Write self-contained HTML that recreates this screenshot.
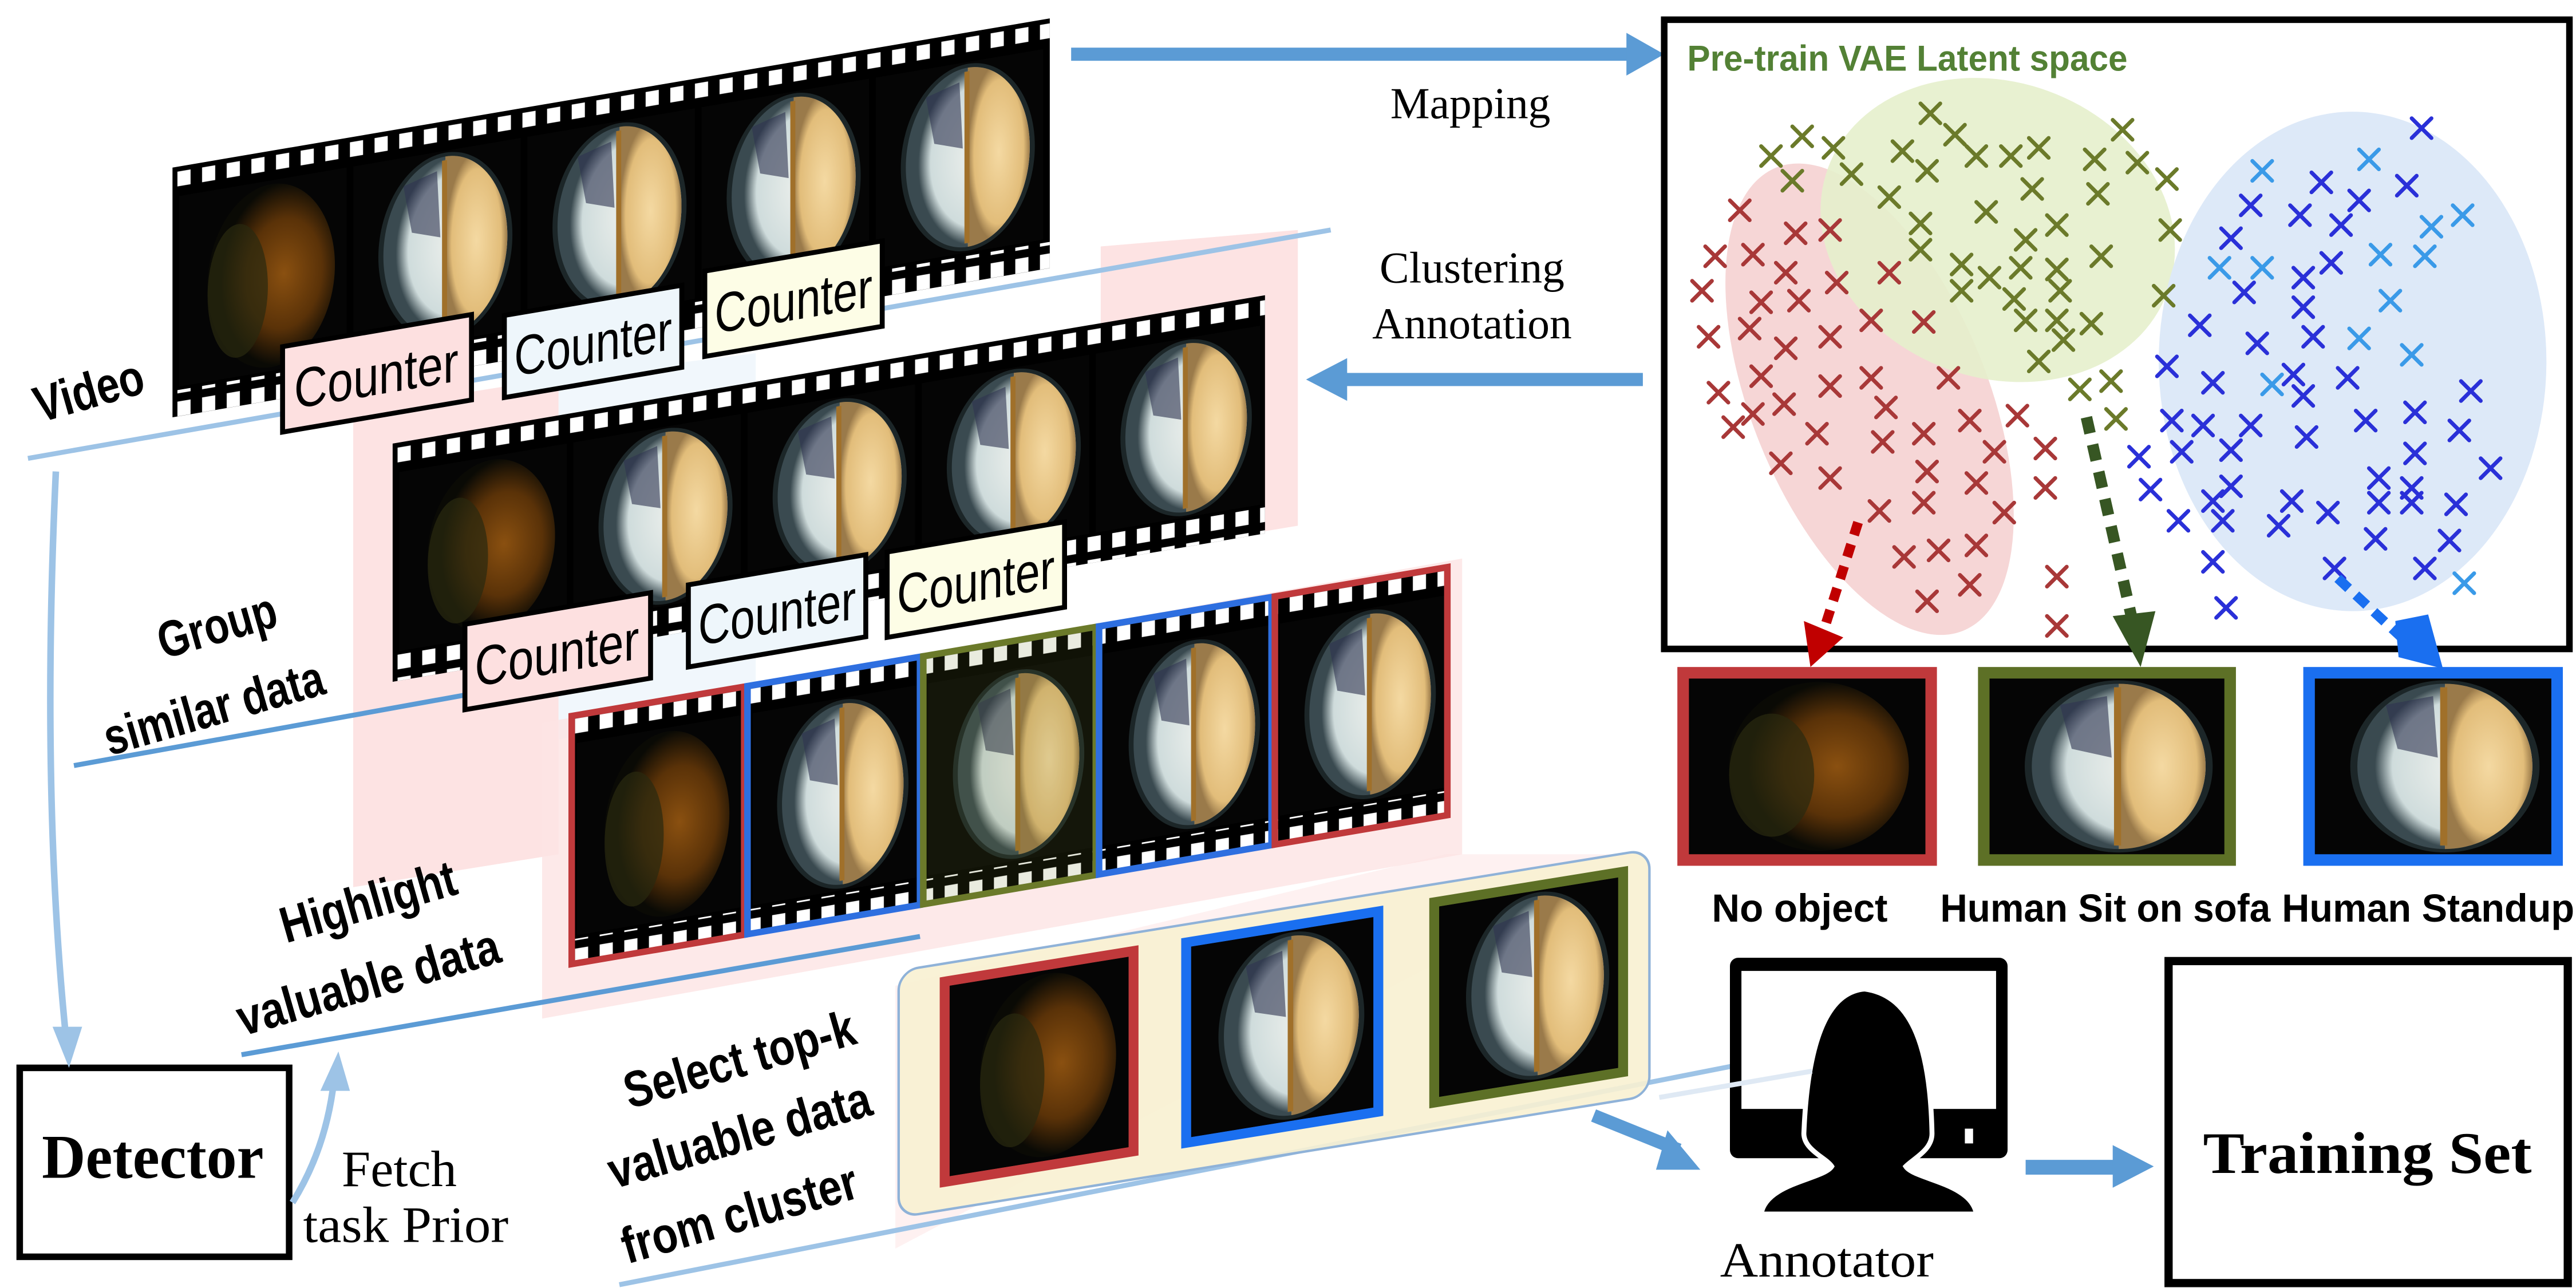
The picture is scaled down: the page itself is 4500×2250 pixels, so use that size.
<!DOCTYPE html>
<html><head><meta charset="utf-8"><style>
html,body{margin:0;padding:0;background:#fff;}
svg{display:block;}
</style></head><body>
<svg width="4500" height="2250" viewBox="0 0 1568 784" xmlns="http://www.w3.org/2000/svg">
<defs>
<radialGradient id="fe" cx="0.5" cy="0.5" r="0.5">
<stop offset="0" stop-color="#f4d9a2"/><stop offset="0.8" stop-color="#e2bd7a"/><stop offset="1" stop-color="#9a7a4a"/>
</radialGradient>
<radialGradient id="fw" cx="0.6" cy="0.5" r="0.5">
<stop offset="0" stop-color="#f0f2ee"/><stop offset="0.8" stop-color="#cfdcdc"/><stop offset="1" stop-color="#3a4a50"/>
</radialGradient>
<radialGradient id="fd" cx="0.6" cy="0.5" r="0.5">
<stop offset="0" stop-color="#8a5010"/><stop offset="0.6" stop-color="#5a3208"/><stop offset="1" stop-color="#0a0a05"/>
</radialGradient>
<pattern id="sp" patternUnits="userSpaceOnUse" width="15" height="14"><rect x="3" y="3" width="8" height="9" fill="#fff"/></pattern>
<symbol id="x" viewBox="-7 -7 14 14" overflow="visible"><path d="M-6,-6 L6,6 M6,-6 L-6,6" stroke-width="2.4" stroke-linecap="round" fill="none"/></symbol>
<symbol id="fr" viewBox="0 0 100 100" preserveAspectRatio="none"><rect width="100" height="100" fill="#050505"/><ellipse cx="55" cy="50" rx="40" ry="49" fill="#1c2628"/><ellipse cx="55" cy="50" rx="37" ry="47" fill="url(#fw)"/><path d="M55,3 A37,47 0 0 1 55,97 Z" fill="url(#fe)"/><path d="M30,15 L50,10 L52,45 L35,40 Z" fill="#2e3350" opacity="0.6"/><rect x="53" y="5" width="3" height="90" fill="#a0702a"/></symbol>
<symbol id="frd" viewBox="0 0 100 100" preserveAspectRatio="none"><rect width="100" height="100" fill="#050505"/><ellipse cx="55" cy="50" rx="38" ry="48" fill="url(#fd)"/><ellipse cx="35" cy="55" rx="18" ry="35" fill="#2a2a10" opacity="0.7"/></symbol>
</defs>

<polygon points="215,250 340,230 340,520 215,540" fill="#fde3e3"/>
<polygon points="340,230 460,215 460,430 340,450" fill="#eef5fb" opacity="0.8"/>
<polygon points="670,150 790,140 790,320 670,340" fill="#fde3e3"/>
<polygon points="330,440 890,340 890,520 330,620" fill="#fde3e3" opacity="0.8"/>
<polygon points="545,600 880,520 1000,520 545,760" fill="#fde3e3" opacity="0.5"/>

<line x1="17" y1="279" x2="810" y2="140" stroke="#9dc3e6" stroke-width="3"/>
<line x1="45" y1="466" x2="300" y2="420" stroke="#5b9bd5" stroke-width="3"/>
<line x1="147" y1="642" x2="560" y2="570" stroke="#5b9bd5" stroke-width="3"/>
<line x1="377" y1="782" x2="1100" y2="640" stroke="#9dc3e6" stroke-width="3"/>

<g transform="translate(105,102) skewY(-9.65)">
<rect width="534" height="152" fill="#000"/>
<rect x="2" y="0" width="532" height="16" fill="url(#sp)"/>
<rect x="2" y="136" width="532" height="16" fill="url(#sp)"/>
<use href="#frd" x="4" y="18" width="102" height="116"/>
<use href="#fr" x="110" y="18" width="102" height="116"/>
<use href="#fr" x="216" y="18" width="102" height="116"/>
<use href="#fr" x="322" y="18" width="102" height="116"/>
<use href="#fr" x="428" y="18" width="102" height="116"/>
</g>
<g font-family="Liberation Sans, sans-serif" font-size="34">
<g transform="translate(172,211) skewY(-9.65)"><rect width="115" height="52" fill="#fde0e0" stroke="#000" stroke-width="3"/><text x="57" y="39" text-anchor="middle" textLength="100" lengthAdjust="spacingAndGlyphs">Counter</text></g>
<g transform="translate(307,192) skewY(-9.65)"><rect width="108" height="50" fill="#eef6fb" stroke="#000" stroke-width="3"/><text x="54" y="38" text-anchor="middle" textLength="96" lengthAdjust="spacingAndGlyphs">Counter</text></g>
<g transform="translate(429,165) skewY(-9.65)"><rect width="108" height="52" fill="#fdfde6" stroke="#000" stroke-width="3"/><text x="54" y="39" text-anchor="middle" textLength="96" lengthAdjust="spacingAndGlyphs">Counter</text></g>
</g>

<g transform="translate(239,270) skewY(-9.65)">
<rect width="531" height="145" fill="#000"/>
<rect x="2" y="0" width="529" height="16" fill="url(#sp)"/>
<rect x="2" y="129" width="529" height="16" fill="url(#sp)"/>
<use href="#frd" x="4" y="18" width="102" height="109"/>
<use href="#fr" x="110" y="18" width="102" height="109"/>
<use href="#fr" x="216" y="18" width="102" height="109"/>
<use href="#fr" x="322" y="18" width="102" height="109"/>
<use href="#fr" x="428" y="18" width="100" height="109"/>
</g>
<g font-family="Liberation Sans, sans-serif" font-size="34">
<g transform="translate(283,380) skewY(-9.65)"><rect width="113" height="52" fill="#fde0e0" stroke="#000" stroke-width="3"/><text x="56" y="39" text-anchor="middle" textLength="100" lengthAdjust="spacingAndGlyphs">Counter</text></g>
<g transform="translate(419,356) skewY(-9.65)"><rect width="108" height="50" fill="#eef6fb" stroke="#000" stroke-width="3"/><text x="54" y="38" text-anchor="middle" textLength="96" lengthAdjust="spacingAndGlyphs">Counter</text></g>
<g transform="translate(540,336) skewY(-9.65)"><rect width="108" height="52" fill="#fdfde6" stroke="#000" stroke-width="3"/><text x="54" y="39" text-anchor="middle" textLength="96" lengthAdjust="spacingAndGlyphs">Counter</text></g>
</g>

<g transform="translate(347,435) skewY(-9.65)">
<rect width="535" height="153" fill="#000"/>
<rect x="2" y="0" width="531" height="16" fill="url(#sp)"/>
<rect x="2" y="137" width="531" height="16" fill="url(#sp)"/>
<use href="#frd" x="4" y="18" width="100" height="117"/>
<use href="#fr" x="111" y="18" width="100" height="117"/>
<use href="#fr" x="218" y="18" width="100" height="117"/>
<use href="#fr" x="325" y="18" width="100" height="117"/>
<use href="#fr" x="432" y="18" width="100" height="117"/>
<rect x="1" y="1" width="105" height="151" fill="none" stroke="#c0393b" stroke-width="4"/>
<rect x="108" y="1" width="105" height="151" fill="none" stroke="#2e6fe0" stroke-width="4"/>
<rect x="215" y="1" width="105" height="151" fill="#6b7a2a" fill-opacity="0.15" stroke="#6b7a2a" stroke-width="4"/>
<rect x="322" y="1" width="105" height="151" fill="none" stroke="#2e6fe0" stroke-width="4"/>
<rect x="429" y="1" width="105" height="151" fill="none" stroke="#c0393b" stroke-width="4"/>
</g>

<g transform="translate(547,591) skewY(-9.2)">
<rect width="457" height="150" rx="12" fill="#f8f1d2" fill-opacity="0.9" stroke="#8fb2d8" stroke-width="1.5"/>
<rect x="25" y="8" width="121" height="128" fill="#c0393b"/><use href="#frd" x="31" y="14" width="109" height="116"/>
<rect x="172" y="8" width="123" height="128" fill="#1a6ff0"/><use href="#fr" x="178" y="14" width="111" height="116"/>
<rect x="323" y="8" width="121" height="128" fill="#5d7026"/><use href="#fr" x="329" y="14" width="109" height="116"/>
</g>

<g font-family="Liberation Sans, sans-serif" font-weight="bold" font-size="31" fill="#000">
<text transform="translate(57,248) rotate(-16)" text-anchor="middle" textLength="68" lengthAdjust="spacingAndGlyphs">Video</text>
<text transform="translate(135,391) rotate(-16)" text-anchor="middle" textLength="74" lengthAdjust="spacingAndGlyphs">Group</text>
<text transform="translate(133,441) rotate(-16)" text-anchor="middle" textLength="138" lengthAdjust="spacingAndGlyphs">similar data</text>
<text transform="translate(227,559) rotate(-16)" text-anchor="middle" textLength="110" lengthAdjust="spacingAndGlyphs">Highlight</text>
<text transform="translate(227,608) rotate(-16)" text-anchor="middle" textLength="165" lengthAdjust="spacingAndGlyphs">valuable data</text>
<text transform="translate(453,655) rotate(-16)" text-anchor="middle" textLength="145" lengthAdjust="spacingAndGlyphs">Select top-k</text>
<text transform="translate(453,701) rotate(-16)" text-anchor="middle" textLength="165" lengthAdjust="spacingAndGlyphs">valuable data</text>
<text transform="translate(453,749) rotate(-16)" text-anchor="middle" textLength="148" lengthAdjust="spacingAndGlyphs">from cluster</text>
</g>

<rect x="12" y="650" width="164" height="115" fill="#fff" stroke="#000" stroke-width="4"/>
<text x="93" y="717" text-anchor="middle" font-family="Liberation Serif, serif" font-weight="bold" font-size="38" textLength="135" lengthAdjust="spacingAndGlyphs">Detector</text>
<text x="243" y="722" text-anchor="middle" font-family="Liberation Serif, serif" font-size="31" textLength="70" lengthAdjust="spacingAndGlyphs">Fetch</text>
<text x="247" y="756" text-anchor="middle" font-family="Liberation Serif, serif" font-size="31" textLength="125" lengthAdjust="spacingAndGlyphs">task Prior</text>
<path d="M34,287 Q25,480 40,630" fill="none" stroke="#9dc3e6" stroke-width="4"/>
<polygon points="32,625 50,625 42,650" fill="#9dc3e6"/>
<path d="M178,732 Q198,700 203,660" fill="none" stroke="#9dc3e6" stroke-width="4"/>
<polygon points="195,664 213,664 206,640" fill="#9dc3e6"/>

<rect x="652" y="29" width="340" height="8" fill="#5b9bd5"/>
<polygon points="990,20 1013,33 990,46" fill="#5b9bd5"/>
<text x="895" y="72" text-anchor="middle" font-family="Liberation Serif, serif" font-size="27">Mapping</text>
<text x="896" y="172" text-anchor="middle" font-family="Liberation Serif, serif" font-size="27">Clustering</text>
<text x="896" y="206" text-anchor="middle" font-family="Liberation Serif, serif" font-size="27">Annotation</text>
<rect x="818" y="227" width="182" height="8" fill="#5b9bd5"/>
<polygon points="820,218 795,231 820,244" fill="#5b9bd5"/>

<rect x="1013" y="12" width="551" height="383" fill="#fff" stroke="#000" stroke-width="4"/>
<text x="1027" y="43" font-family="Liberation Sans, sans-serif" font-weight="bold" font-size="22" fill="#538135" textLength="268" lengthAdjust="spacingAndGlyphs">Pre-train VAE Latent space</text>
<ellipse cx="1138" cy="243" rx="72" ry="152" transform="rotate(-22 1138 243)" fill="#f4cfcf" opacity="0.85"/>
<ellipse cx="1216" cy="140" rx="110" ry="90" transform="rotate(20 1216 140)" fill="#e6efcc" opacity="0.9"/>
<ellipse cx="1432" cy="220" rx="118" ry="152" fill="#dde9f8"/>
<g stroke="#a83838">
<use href="#x" x="1052" y="121" width="14" height="14"/><use href="#x" x="1086" y="135" width="14" height="14"/><use href="#x" x="1107" y="133" width="14" height="14"/><use href="#x" x="1037" y="149" width="14" height="14"/><use href="#x" x="1060" y="148" width="14" height="14"/><use href="#x" x="1080" y="159" width="14" height="14"/><use href="#x" x="1111" y="165" width="14" height="14"/><use href="#x" x="1029" y="170" width="14" height="14"/><use href="#x" x="1143" y="159" width="14" height="14"/><use href="#x" x="1065" y="177" width="14" height="14"/><use href="#x" x="1088" y="176" width="14" height="14"/><use href="#x" x="1132" y="188" width="14" height="14"/><use href="#x" x="1164" y="189" width="14" height="14"/><use href="#x" x="1033" y="198" width="14" height="14"/><use href="#x" x="1058" y="193" width="14" height="14"/><use href="#x" x="1107" y="198" width="14" height="14"/><use href="#x" x="1080" y="205" width="14" height="14"/><use href="#x" x="1065" y="222" width="14" height="14"/><use href="#x" x="1132" y="223" width="14" height="14"/><use href="#x" x="1107" y="228" width="14" height="14"/><use href="#x" x="1179" y="223" width="14" height="14"/><use href="#x" x="1039" y="232" width="14" height="14"/><use href="#x" x="1079" y="239" width="14" height="14"/><use href="#x" x="1060" y="245" width="14" height="14"/><use href="#x" x="1141" y="241" width="14" height="14"/><use href="#x" x="1048" y="253" width="14" height="14"/><use href="#x" x="1099" y="257" width="14" height="14"/><use href="#x" x="1139" y="262" width="14" height="14"/><use href="#x" x="1164" y="257" width="14" height="14"/><use href="#x" x="1192" y="249" width="14" height="14"/><use href="#x" x="1221" y="246" width="14" height="14"/><use href="#x" x="1207" y="268" width="14" height="14"/><use href="#x" x="1238" y="266" width="14" height="14"/><use href="#x" x="1077" y="275" width="14" height="14"/><use href="#x" x="1107" y="284" width="14" height="14"/><use href="#x" x="1166" y="280" width="14" height="14"/><use href="#x" x="1196" y="287" width="14" height="14"/><use href="#x" x="1238" y="290" width="14" height="14"/><use href="#x" x="1137" y="304" width="14" height="14"/><use href="#x" x="1164" y="299" width="14" height="14"/><use href="#x" x="1213" y="305" width="14" height="14"/><use href="#x" x="1152" y="332" width="14" height="14"/><use href="#x" x="1173" y="328" width="14" height="14"/><use href="#x" x="1196" y="325" width="14" height="14"/><use href="#x" x="1245" y="344" width="14" height="14"/><use href="#x" x="1192" y="349" width="14" height="14"/><use href="#x" x="1166" y="359" width="14" height="14"/><use href="#x" x="1245" y="374" width="14" height="14"/>
</g>
<g stroke="#6b7a2a">
<use href="#x" x="1168" y="62" width="14" height="14"/><use href="#x" x="1183" y="75" width="14" height="14"/><use href="#x" x="1090" y="76" width="14" height="14"/><use href="#x" x="1071" y="88" width="14" height="14"/><use href="#x" x="1109" y="83" width="14" height="14"/><use href="#x" x="1151" y="85" width="14" height="14"/><use href="#x" x="1196" y="88" width="14" height="14"/><use href="#x" x="1217" y="88" width="14" height="14"/><use href="#x" x="1234" y="83" width="14" height="14"/><use href="#x" x="1268" y="90" width="14" height="14"/><use href="#x" x="1285" y="72" width="14" height="14"/><use href="#x" x="1294" y="92" width="14" height="14"/><use href="#x" x="1312" y="102" width="14" height="14"/><use href="#x" x="1120" y="99" width="14" height="14"/><use href="#x" x="1166" y="97" width="14" height="14"/><use href="#x" x="1084" y="103" width="14" height="14"/><use href="#x" x="1143" y="113" width="14" height="14"/><use href="#x" x="1230" y="108" width="14" height="14"/><use href="#x" x="1270" y="111" width="14" height="14"/><use href="#x" x="1202" y="122" width="14" height="14"/><use href="#x" x="1162" y="129" width="14" height="14"/><use href="#x" x="1245" y="130" width="14" height="14"/><use href="#x" x="1314" y="133" width="14" height="14"/><use href="#x" x="1226" y="139" width="14" height="14"/><use href="#x" x="1162" y="145" width="14" height="14"/><use href="#x" x="1272" y="149" width="14" height="14"/><use href="#x" x="1187" y="154" width="14" height="14"/><use href="#x" x="1223" y="156" width="14" height="14"/><use href="#x" x="1245" y="157" width="14" height="14"/><use href="#x" x="1204" y="162" width="14" height="14"/><use href="#x" x="1187" y="170" width="14" height="14"/><use href="#x" x="1247" y="170" width="14" height="14"/><use href="#x" x="1219" y="175" width="14" height="14"/><use href="#x" x="1310" y="173" width="14" height="14"/><use href="#x" x="1226" y="188" width="14" height="14"/><use href="#x" x="1245" y="188" width="14" height="14"/><use href="#x" x="1266" y="190" width="14" height="14"/><use href="#x" x="1249" y="200" width="14" height="14"/><use href="#x" x="1234" y="213" width="14" height="14"/><use href="#x" x="1259" y="230" width="14" height="14"/><use href="#x" x="1278" y="225" width="14" height="14"/><use href="#x" x="1281" y="248" width="14" height="14"/>
</g>
<g stroke="#2a30d8">
<use href="#x" x="1467" y="71" width="14" height="14"/><use href="#x" x="1406" y="104" width="14" height="14"/><use href="#x" x="1458" y="106" width="14" height="14"/><use href="#x" x="1429" y="115" width="14" height="14"/><use href="#x" x="1363" y="118" width="14" height="14"/><use href="#x" x="1393" y="124" width="14" height="14"/><use href="#x" x="1418" y="130" width="14" height="14"/><use href="#x" x="1351" y="138" width="14" height="14"/><use href="#x" x="1412" y="153" width="14" height="14"/><use href="#x" x="1395" y="162" width="14" height="14"/><use href="#x" x="1359" y="171" width="14" height="14"/><use href="#x" x="1395" y="180" width="14" height="14"/><use href="#x" x="1332" y="191" width="14" height="14"/><use href="#x" x="1367" y="202" width="14" height="14"/><use href="#x" x="1401" y="198" width="14" height="14"/><use href="#x" x="1312" y="216" width="14" height="14"/><use href="#x" x="1340" y="226" width="14" height="14"/><use href="#x" x="1389" y="221" width="14" height="14"/><use href="#x" x="1422" y="223" width="14" height="14"/><use href="#x" x="1497" y="231" width="14" height="14"/><use href="#x" x="1395" y="234" width="14" height="14"/><use href="#x" x="1315" y="249" width="14" height="14"/><use href="#x" x="1334" y="252" width="14" height="14"/><use href="#x" x="1363" y="252" width="14" height="14"/><use href="#x" x="1433" y="249" width="14" height="14"/><use href="#x" x="1463" y="244" width="14" height="14"/><use href="#x" x="1490" y="255" width="14" height="14"/><use href="#x" x="1295" y="271" width="14" height="14"/><use href="#x" x="1321" y="268" width="14" height="14"/><use href="#x" x="1351" y="267" width="14" height="14"/><use href="#x" x="1397" y="259" width="14" height="14"/><use href="#x" x="1463" y="269" width="14" height="14"/><use href="#x" x="1509" y="278" width="14" height="14"/><use href="#x" x="1441" y="284" width="14" height="14"/><use href="#x" x="1302" y="291" width="14" height="14"/><use href="#x" x="1351" y="289" width="14" height="14"/><use href="#x" x="1461" y="290" width="14" height="14"/><use href="#x" x="1340" y="298" width="14" height="14"/><use href="#x" x="1388" y="298" width="14" height="14"/><use href="#x" x="1410" y="305" width="14" height="14"/><use href="#x" x="1441" y="299" width="14" height="14"/><use href="#x" x="1461" y="299" width="14" height="14"/><use href="#x" x="1488" y="300" width="14" height="14"/><use href="#x" x="1319" y="310" width="14" height="14"/><use href="#x" x="1346" y="310" width="14" height="14"/><use href="#x" x="1380" y="313" width="14" height="14"/><use href="#x" x="1439" y="321" width="14" height="14"/><use href="#x" x="1484" y="322" width="14" height="14"/><use href="#x" x="1340" y="335" width="14" height="14"/><use href="#x" x="1414" y="339" width="14" height="14"/><use href="#x" x="1469" y="339" width="14" height="14"/><use href="#x" x="1348" y="363" width="14" height="14"/>
</g>
<g stroke="#3a9ae8">
<use href="#x" x="1435" y="90" width="14" height="14"/><use href="#x" x="1370" y="97" width="14" height="14"/><use href="#x" x="1492" y="124" width="14" height="14"/><use href="#x" x="1473" y="131" width="14" height="14"/><use href="#x" x="1442" y="148" width="14" height="14"/><use href="#x" x="1469" y="149" width="14" height="14"/><use href="#x" x="1344" y="156" width="14" height="14"/><use href="#x" x="1370" y="156" width="14" height="14"/><use href="#x" x="1448" y="176" width="14" height="14"/><use href="#x" x="1429" y="199" width="14" height="14"/><use href="#x" x="1461" y="209" width="14" height="14"/><use href="#x" x="1376" y="227" width="14" height="14"/><use href="#x" x="1493" y="348" width="14" height="14"/>
</g>
<line x1="1131" y1="318" x2="1110" y2="384" stroke="#c00000" stroke-width="6" stroke-dasharray="8,6"/>
<polygon points="1098,378 1122,388 1102,406" fill="#c00000"/>
<line x1="1270" y1="254" x2="1298" y2="378" stroke="#375623" stroke-width="7" stroke-dasharray="10,7"/>
<polygon points="1286,375 1312,372 1303,406" fill="#375623"/>
<line x1="1423" y1="352" x2="1464" y2="390" stroke="#1a6ff0" stroke-width="6" stroke-dasharray="9,6"/>
<polygon points="1458,378 1478,374 1487,407 1460,400" fill="#1a6ff0"/>

<rect x="1021" y="406" width="158" height="121" fill="#c0393b"/><use href="#frd" x="1028" y="413" width="144" height="107"/>
<rect x="1204" y="406" width="157" height="121" fill="#5d7026"/><use href="#fr" x="1211" y="413" width="143" height="107"/>
<rect x="1402" y="406" width="158" height="121" fill="#1a6ff0"/><use href="#fr" x="1409" y="413" width="144" height="107"/>
<g font-family="Liberation Sans, sans-serif" font-weight="bold" font-size="24">
<text x="1042" y="561" textLength="107" lengthAdjust="spacingAndGlyphs">No object</text>
<text x="1181" y="561" textLength="201" lengthAdjust="spacingAndGlyphs">Human Sit on sofa</text>
<text x="1389" y="561" textLength="178" lengthAdjust="spacingAndGlyphs">Human Standup</text>
</g>

<rect x="1053" y="583" width="169" height="122" rx="5" fill="#000"/>
<rect x="1060" y="591" width="155" height="84" fill="#fff"/>
<rect x="1196" y="687" width="5" height="9" fill="#fff"/>
<path d="M1135,602 C1110,604 1100,640 1098,690 C1098,700 1112,705 1115,710 C1110,718 1075,720 1072,739 L1203,739 C1200,720 1165,718 1160,710 C1165,705 1176,700 1176,690 C1175,640 1165,606 1135,602 Z" fill="#000" stroke="#fff" stroke-width="3"/>
<line x1="1010" y1="668" x2="1103" y2="652" stroke="#dfe9f4" stroke-width="3"/>
<text x="1112" y="777" text-anchor="middle" font-family="Liberation Serif, serif" font-size="30" textLength="130" lengthAdjust="spacingAndGlyphs">Annotator</text>
<line x1="970" y1="679" x2="1022" y2="700" stroke="#5b9bd5" stroke-width="8"/>
<polygon points="1015,688 1035,712 1008,712" fill="#5b9bd5"/>
<rect x="1233" y="706" width="55" height="9" fill="#5b9bd5"/>
<polygon points="1286,697 1311,710 1286,723" fill="#5b9bd5"/>
<rect x="1320" y="585" width="243" height="196" fill="#fff" stroke="#000" stroke-width="5"/>
<text x="1441" y="714" text-anchor="middle" font-family="Liberation Serif, serif" font-weight="bold" font-size="36" textLength="200" lengthAdjust="spacingAndGlyphs">Training Set</text>
</svg>
</body></html>
